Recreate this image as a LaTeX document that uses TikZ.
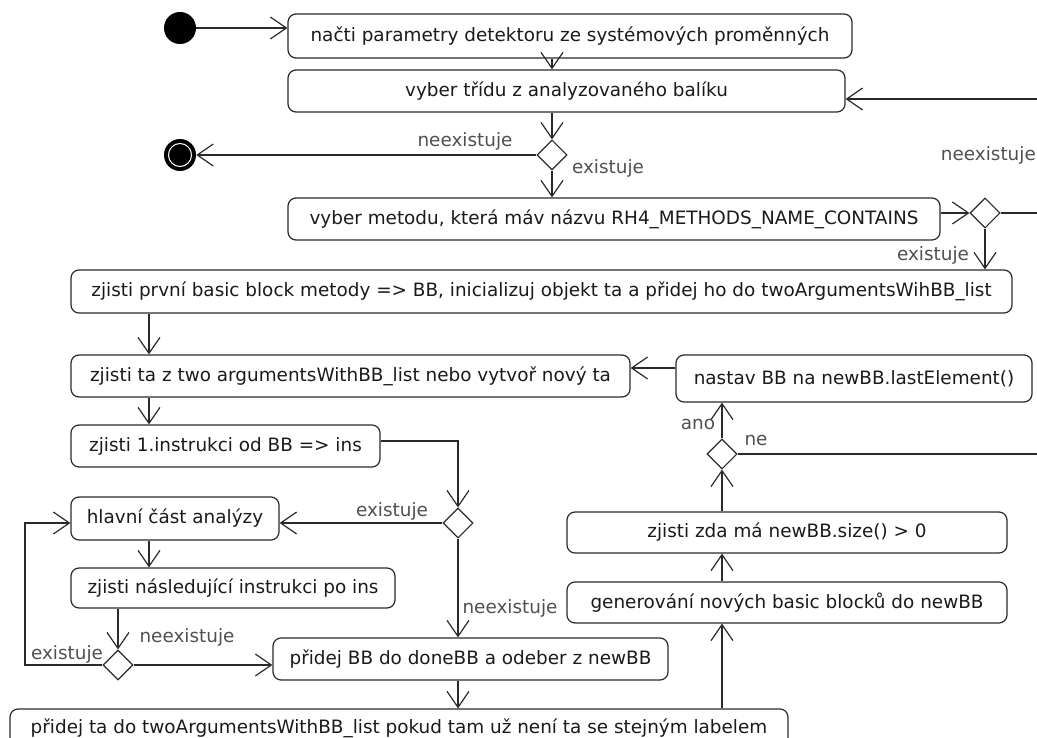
\documentclass[tikz,border=0pt]{standalone}
\usepackage{fontspec}
\setmainfont{DejaVu Sans}
\usetikzlibrary{arrows.meta,shapes.geometric}
\definecolor{ink}{HTML}{1A1A1A}
\definecolor{labelgrey}{HTML}{505050}
\definecolor{edge}{HTML}{2A2A2A}
\begin{document}
\begin{tikzpicture}[x=1pt,y=-1pt,
  every node/.style={font=\fontsize{18.4}{22}\selectfont},
  act/.style={draw=edge, line width=1.2pt, rounded corners=8pt, inner sep=0pt, text=ink, anchor=center},
  choice/.style={draw=edge, line width=1.1pt, diamond, aspect=1, minimum width=30pt, minimum height=30pt, inner sep=0pt},
  flow/.style={draw=edge, line width=1.2pt, -{Straight Barb[length=16pt,width=22pt]}},
  plain/.style={draw=edge, line width=1.2pt},
  lbl/.style={text=labelgrey, inner sep=0pt},
  dot/.style={circle, fill=black, minimum size=32pt, inner sep=0pt},
]
\useasboundingbox (0,0) rectangle (1037,738);

% start and end
\node[dot] (start) at (180,28) {};
\node[dot] (stop) at (180,155) {};
\draw[white, line width=1pt] (stop.center) circle[radius=11.5pt];

% activities
\node[act, minimum width=564pt, minimum height=44pt] (b1) at (570,36) {načti parametry detektoru ze systémových proměnných};
\node[act, minimum width=557pt, minimum height=42pt] (b2) at (566.5,91) {vyber třídu z analyzovaného balíku};
\node[act, minimum width=652pt, minimum height=42pt] (b3) at (614,219) {vyber metodu, která máv názvu RH4\_METHODS\_NAME\_CONTAINS};
\node[act, minimum width=941pt, minimum height=43pt] (b4) at (541.5,291.5) {zjisti první basic block metody => BB, inicializuj objekt ta a přidej ho do twoArgumentsWihBB\_list};
\node[act, minimum width=559pt, minimum height=42pt] (b5) at (350.5,376) {zjisti ta z two argumentsWithBB\_list nebo vytvoř nový ta};
\node[act, minimum width=356pt, minimum height=47pt] (b6) at (854,378.5) {nastav BB na newBB.lastElement()};
\node[act, minimum width=309pt, minimum height=42pt] (b7) at (225.5,446) {zjisti 1.instrukci od BB => ins};
\node[act, minimum width=208pt, minimum height=43pt] (b8) at (175,518.5) {hlavní část analýzy};
\node[act, minimum width=324pt, minimum height=40pt] (b9) at (233,588) {zjisti následující instrukci po ins};
\node[act, minimum width=395pt, minimum height=42pt] (b10) at (470.5,659) {přidej BB do doneBB a odeber z newBB};
\node[act, minimum width=778pt, minimum height=38pt] (b11) at (399,728) {přidej ta do twoArgumentsWithBB\_list pokud tam už není ta se stejným labelem};
\node[act, minimum width=440pt, minimum height=41pt] (b12) at (787,602.5) {generování nových basic blocků do newBB};
\node[act, minimum width=440pt, minimum height=41pt] (b13) at (787,532.5) {zjisti zda má newBB.size() > 0};

% decisions
\node[choice] (d1) at (552,155) {};
\node[choice] (d2) at (985,213) {};
\node[choice] (d3) at (458,523) {};
\node[choice] (d4) at (118,665) {};
\node[choice] (d5) at (722,454) {};

% helper coordinates
\coordinate (colA) at (149,0);
\coordinate (loopx) at (25,0);
\coordinate (rowB) at (0,368);
\coordinate (rowC) at (0,441);
\coordinate (rowD) at (0,213);
\coordinate (back) at (1037,99);
\coordinate (outD2) at (1037,213);
\coordinate (outD5) at (1037,454);

% connectors
\draw[flow] (start.east) -- (start.east -| b1.west);
\draw[flow] (b1.south -| d1) -- (b2.north -| d1);
\draw[flow] (b2.south -| d1) -- (d1.north);
\draw[flow] (d1.west) -- (stop.east);
\draw[flow] (d1.south) -- (b3.north -| d1);
\draw[flow] (b3.east |- rowD) -- (d2.west);
\draw[plain] (d2.east) -- (outD2);
\draw[flow] (back) -- (back -| b2.east);
\draw[flow] (d2.south) -- (b4.north -| d2);
\draw[flow] (b4.south -| colA) -- (b5.north -| colA);
\draw[flow] (b6.west |- rowB) -- (b5.east |- rowB);
\draw[flow] (b5.south -| colA) -- (b7.north -| colA);
\draw[flow] (b7.east |- rowC) -| (d3.north);
\draw[flow] (d3.west) -- (b8.east |- d3);
\draw[flow] (d3.south) -- (b10.north -| d3);
\draw[flow] (b8.south -| colA) -- (b9.north -| colA);
\draw[flow] (b9.south -| d4) -- (d4.north);
\draw[flow] (d4.east) -- (b10.west |- d4);
\draw[flow] (d4.west) -- (d4.west -| loopx) -- (loopx |- d3) -- (b8.west |- d3);
\draw[flow] (b10.south -| d3) -- (b11.north -| d3);
\draw[flow] (b11.north -| d5) -- (b12.south -| d5);
\draw[flow] (b12.north -| d5) -- (b13.south -| d5);
\draw[flow] (b13.north -| d5) -- (d5.south);
\draw[flow] (d5.north) -- (b6.south -| d5);
\draw[plain] (d5.east) -- (outD5);

% guard labels
\node[lbl] (l1) at (465,141) {neexistuje};
\node[lbl] (l2) at (608,168) {existuje};
\node[lbl, anchor=east] (l3) at (1036,155) {neexistuje};
\node[lbl] (l4) at (933,255) {existuje};
\node[lbl] (l5) at (392,511) {existuje};
\node[lbl] (l6) at (510,608) {neexistuje};
\node[lbl] (l7) at (187,637) {neexistuje};
\node[lbl] (l8) at (67,654) {existuje};
\node[lbl] (l9) at (698,424) {ano};
\node[lbl] (l10) at (756,440) {ne};
\end{tikzpicture}
\end{document}
